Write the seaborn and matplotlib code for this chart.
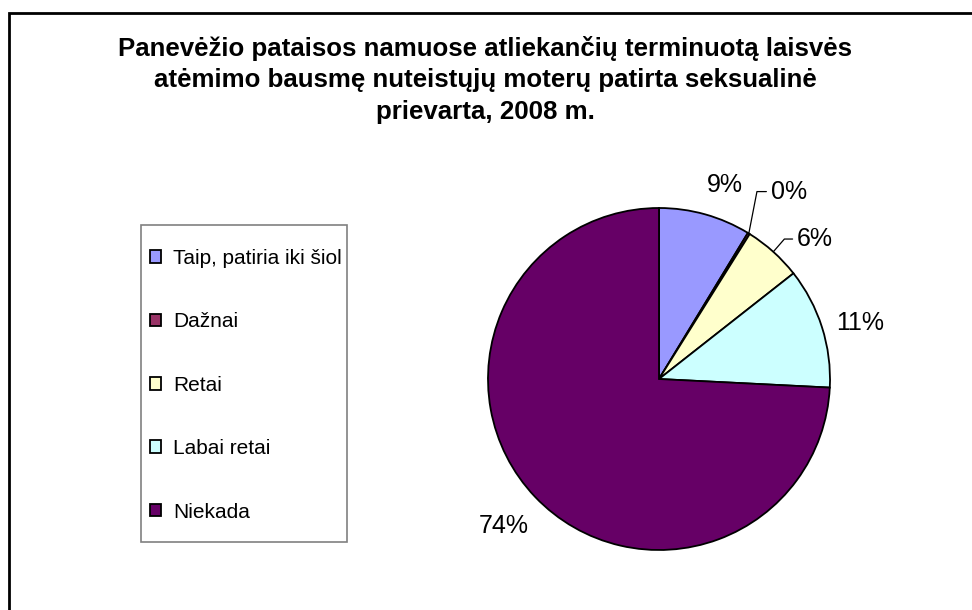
import matplotlib
matplotlib.use("Agg")
import matplotlib.pyplot as plt
import seaborn as sns
from matplotlib.patches import Rectangle
import numpy as np

# duomenys
kategorijos = ["Taip, patiria iki šiol", "Dažnai", "Retai", "Labai retai", "Niekada"]
reiksmes = [8.7, 0.2, 5.5, 11.4, 74.2]
etiketes = ["9%", "0%", "6%", "11%", "74%"]
spalvos = ["#9999FF", "#993366", "#FFFFCC", "#CCFFFF", "#660066"]
pavadinimas = ("Panevėžio pataisos namuose atliekančių terminuotą laisvės\n"
               "atėmimo bausmę nuteistųjų moterų patirta seksualinė\n"
               "prievarta, 2008 m.")

sns.set_theme(style="white")
plt.rcParams["font.family"] = ["Liberation Sans", "DejaVu Sans"]

W, H = 972, 610
fig = plt.figure(figsize=(W / 100, H / 100), dpi=100)

# pyrago ašys: centras (659, 379), spindulys 171 px
cx, cy, r = 659, 379, 171
ax = fig.add_axes([(cx - r) / W, (H - cy - r) / H, 2 * r / W, 2 * r / H])
wedges, _ = ax.pie(reiksmes, colors=sns.color_palette(spalvos), startangle=90,
                   counterclock=False, radius=1.0,
                   wedgeprops=dict(edgecolor="black", linewidth=1.3))
ax.set_xlim(-1, 1)
ax.set_ylim(-1, 1)
ax.set_aspect("equal")
ax.axis("off")

# etikečių atstumai, kampo poslinkiai ir ar reikia linijos
atstumai = [1.20, 1.30, 1.20, 1.22, 1.25]
poslinkiai = [-3, 0, 0, -2, 0]
su_linija = [False, True, True, False, False]
for w, lab, d, dk, lin in zip(wedges, etiketes, atstumai, poslinkiai, su_linija):
    mid = np.deg2rad((w.theta1 + w.theta2) / 2 + dk)
    if lin:
        x0, y0 = np.cos(mid), np.sin(mid)
        if lab == "0%":
            ex, ey, kamp = x0 + 0.05, y0 + 0.245, 79
            tx, ty = ex + 0.08, ey
        else:
            ex, ey, kamp = x0 * 1.06 + 0.01, y0 * 1.06 + 0.03, 49
            tx, ty = ex + 0.09, ey
        ax.annotate(lab, xy=(x0, y0), xytext=(tx, ty), ha="left", va="center",
                    fontsize=18, color="black", annotation_clip=False,
                    arrowprops=dict(arrowstyle="-", color="black", lw=0.9,
                                    shrinkA=1, shrinkB=0, relpos=(0, 0.5),
                                    connectionstyle="angle,angleA=180,angleB=%d,rad=0"
                                    % kamp))
    else:
        ax.text(d * np.cos(mid), d * np.sin(mid), lab, ha="center", va="center",
                fontsize=18, color="black")

# legenda
leg = fig.legend(wedges, kategorijos, loc="upper left",
                 bbox_to_anchor=(150 / W, 1 - 249 / H), frameon=False,
                 fontsize=15, handlelength=0.55, handleheight=0.55,
                 handletextpad=0.55, labelspacing=2.13, borderpad=0,
                 borderaxespad=0)
for t in leg.get_texts():
    t.set_color("black")
fig.add_artist(Rectangle((141 / W, 1 - 542 / H), 206 / W, 317 / H,
                         transform=fig.transFigure, fill=False,
                         edgecolor="#808080", linewidth=1.2))

# pavadinimas
fig.text(485 / W, 1 - 80 / H, pavadinimas, ha="center", va="center",
         fontsize=18.6, fontweight="bold", linespacing=1.40, color="black")

# diagramos rėmelis (apkarpytas)
fig.add_artist(Rectangle((9 / W, -0.1), 1.2, 1 - 13 / H + 0.1,
                         transform=fig.transFigure, fill=False,
                         edgecolor="black", linewidth=2))

fig.savefig("out.png", dpi=100)
